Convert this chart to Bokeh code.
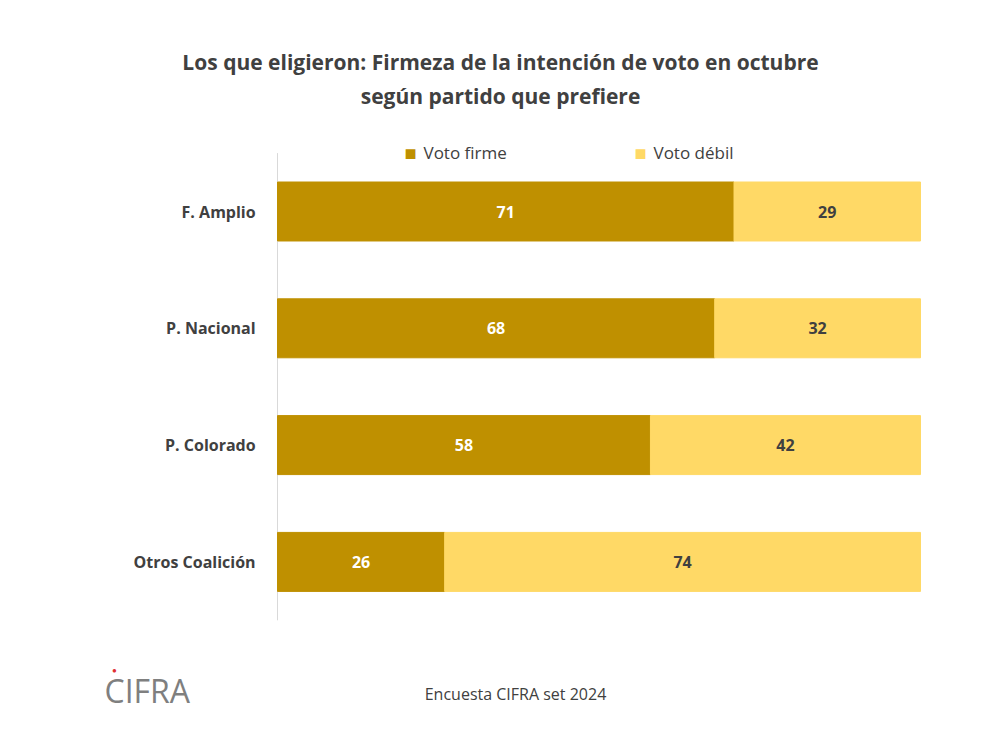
from bokeh.plotting import figure
from bokeh.models import Label, ColumnDataSource, Range1d
from bokeh.core.properties import value
from bokeh.embed import file_html
from bokeh.resources import INLINE

parties = ["F. Amplio", "P. Nacional", "P. Colorado", "Otros Coalición"]
firme = [71, 68, 58, 26]
debil = [29, 32, 42, 74]
DARK = "#BF9000"; LIGHT = "#FFD966"; TXT = "#404040"; F = "Open Sans"

W, H = 984, 736
PX = 6.43     # px per percent; 0% at x=277
UY = 116.8    # px per row; first row centre at y=211
xr = Range1d(-277 / PX, (W - 277) / PX)
yr = Range1d((H - 211) / UY, -211 / UY)
p = figure(width=W, height=H, output_backend="svg", toolbar_location=None,
           x_range=xr, y_range=yr, min_border=0)
p.outline_line_color = None
p.grid.grid_line_color = None
p.axis.visible = False

rows = list(range(len(parties)))
src = ColumnDataSource(dict(y=rows, name=parties, f=firme, l2=firme,
                            r2=[a + b for a, b in zip(firme, debil)],
                            fm=[v / 2 for v in firme], dm=[a + b / 2 for a, b in zip(firme, debil)],
                            ft=[str(v) for v in firme], dt=[str(v) for v in debil]))
p.segment(x0=0, x1=0, y0=-0.5, y1=len(parties) - 0.5, line_color="#D9D9D9", line_width=1)
p.hbar(y="y", left=0, right="f", height=0.505, color=DARK, source=src)
p.hbar(y="y", left="l2", right="r2", height=0.505, color=LIGHT, source=src)
p.text(x="fm", y="y", text="ft", source=src, text_align="center", text_baseline="middle",
       text_color="white", text_font=value(F), text_font_style="bold", text_font_size="16px")
p.text(x="dm", y="y", text="dt", source=src, text_align="center", text_baseline="middle",
       text_color=TXT, text_font=value(F), text_font_style="bold", text_font_size="16px")
p.text(x="-3.4", y="y", text="name", source=src, text_align="right", text_baseline="middle",
       text_color=TXT, text_font=value(F), text_font_style="bold", text_font_size="16px") if False else \
p.text(x=-3.4, y="y", text="name", source=src, text_align="right", text_baseline="middle",
       text_color=TXT, text_font=value(F), text_font_style="bold", text_font_size="16px")

def lab(x, y, t, size="16px", bold=False, color=TXT, align="center"):
    p.add_layout(Label(x=x, y=H - y, x_units="screen", y_units="screen", text=t,
                       text_font=F, text_font_size=size, text_color=color,
                       text_font_style="bold" if bold else "normal",
                       text_align=align, text_baseline="middle"))

lab(500, 61, "Los que eligieron: Firmeza de la intención de voto en octubre", "21px", True)
lab(500, 95, "según partido que prefiere", "21px", True)
lab(410, 152, "■", "20px", color=DARK)
lab(423, 152, "Voto firme", "17px", align="left")
lab(640, 152, "■", "20px", color=LIGHT)
lab(653, 152, "Voto débil", "17px", align="left")
lab(515, 693, "Encuesta CIFRA set 2024", "16px")
lab(104, 690, "CIFRA", "32px", color="#7F7F7F", align="left")
lab(114, 669, "●", "8px", color="#E03030")

open("out.html", "w").write(file_html(p, INLINE))
